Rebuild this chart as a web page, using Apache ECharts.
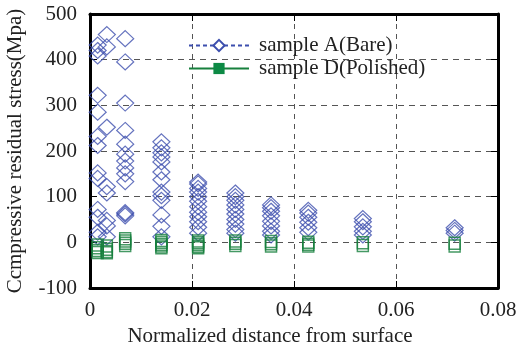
<!DOCTYPE html>
<html>
<head>
<meta charset="utf-8">
<script src="https://cdn.jsdelivr.net/npm/echarts@6/dist/echarts.min.js"></script>
<style>
  html, body { margin: 0; padding: 0; background: #fff; }
  #chart { width: 527px; height: 347px; }
</style>
</head>
<body>
<div id="chart"></div>
<script>
// depth positions (normalized distance) of the measurement columns
var depths = [0.0015, 0.0033, 0.0069, 0.0140, 0.0212, 0.0285, 0.0355, 0.0428, 0.0535, 0.0715];

// sample A (bare), stresses per column
var bareVals = [
  [432, 420, 408, 322, 285, 232, 212, 152, 140, 72, 55, 22, 12],
  [455, 428, 252, 122, 108, 48, 36, 12],
  [446, 395, 305, 245, 215, 193, 178, 163, 150, 133, 65, 62, 58],
  [220, 207, 196, 187, 176, 154, 137, 110, 102, 92, 60, 35, 12],
  [132, 128, 118, 110, 100, 90, 78, 66, 56, 45, 33, 20],
  [108, 100, 92, 82, 72, 62, 50, 40, 28, 20],
  [82, 76, 68, 58, 46, 36, 24, 16],
  [70, 64, 55, 44, 32, 22],
  [52, 45, 34, 24, 16],
  [32, 26, 20]
];

// sample D (polished), stresses per column
var polishedVals = [
  [-6, -12, -18, -22],
  [-8, -15, -20, -23],
  [8, 3, -2, -7],
  [4, 0, -4, -8, -12],
  [3, -1, -5, -9, -12],
  [3, -2, -7],
  [2, -3, -8],
  [0, -4, -8],
  [-1, -7],
  [-2, -8]
];

function toPoints(vals) {
  var pts = [];
  vals.forEach(function (col, i) {
    col.forEach(function (v) { pts.push([depths[i], v]); });
  });
  return pts;
}

var blue = '#3d4fae';
var green = '#17803d';
var font = "'Liberation Serif', 'Times New Roman', serif";

var chart = echarts.init(document.getElementById('chart'));

var option = {
  animation: false,
  textStyle: { fontFamily: font },
  grid: { left: 90, right: 29, top: 14, bottom: 59, containLabel: false, outerBoundsMode: 'none' },
  legend: {
    orient: 'vertical',
    left: 183,
    top: 30,
    itemWidth: 60,
    itemHeight: 14,
    itemGap: 2,
    textStyle: { fontFamily: font, fontSize: 21, color: '#222', padding: [0, 0, 0, 5] },
    data: ['sample A(Bare)', 'sample D(Polished)']
  },
  xAxis: [{
    type: 'value',
    min: 0, max: 0.08, interval: 0.02,
    name: 'Normalized distance from surface',
    nameLocation: 'middle',
    nameGap: 34,
    nameTextStyle: { fontFamily: font, fontSize: 21, color: '#222', padding: [0, 48, 0, 0] },
    axisLine: { onZero: false, lineStyle: { color: '#000', width: 3 } },
    axisTick: { inside: true, length: 7, lineStyle: { color: '#000', width: 1 } },
    axisLabel: {
      fontFamily: font, fontSize: 21, color: '#222', margin: 12,
      formatter: function (v) { return v === 0 ? '0' : v.toFixed(2); }
    },
    splitLine: { show: true, lineStyle: { color: '#555', type: [5, 5], width: 1 } }
  }, {
    type: 'value', position: 'top',
    min: 0, max: 0.08, interval: 0.02,
    axisLine: { onZero: false, lineStyle: { color: '#000', width: 3 } },
    axisTick: { inside: true, length: 7, lineStyle: { color: '#000', width: 1 } },
    axisLabel: { show: false },
    splitLine: { show: false }
  }],
  yAxis: [{
    type: 'value',
    min: -100, max: 500, interval: 100,
    name: 'Ccmpressive residual stress(Mpa)',
    nameLocation: 'middle',
    nameGap: 64,
    nameTextStyle: { fontFamily: font, fontSize: 21, color: '#222' },
    axisLine: { show: true, onZero: false, lineStyle: { color: '#000', width: 3 } },
    axisTick: { show: true, inside: true, length: 7, lineStyle: { color: '#000', width: 1 } },
    axisLabel: { fontFamily: font, fontSize: 21, color: '#222', margin: 13 },
    splitLine: { show: true, lineStyle: { color: '#555', type: [6, 5], width: 1 } }
  }, {
    type: 'value', position: 'right',
    min: -100, max: 500, interval: 100,
    axisLine: { show: true, onZero: false, lineStyle: { color: '#000', width: 3 } },
    axisTick: { show: true, inside: true, length: 7, lineStyle: { color: '#000', width: 1 } },
    axisLabel: { show: false },
    splitLine: { show: false }
  }],
  series: [
    {
      name: 'A',
      type: 'scatter',
      symbol: 'diamond',
      symbolSize: [17, 16],
      itemStyle: { color: 'rgba(255,255,255,0)', borderColor: blue, borderWidth: 1.2 },
      data: toPoints(bareVals)
    },
    {
      name: 'D',
      type: 'scatter',
      symbol: 'rect',
      symbolSize: [11, 12],
      itemStyle: { color: 'rgba(255,255,255,0)', borderColor: green, borderWidth: 1.5 },
      data: toPoints(polishedVals)
    },
    // legend-only entries
    {
      name: 'sample A(Bare)',
      type: 'line',
      data: [],
      symbol: 'diamond',
      symbolSize: 9,
      itemStyle: { color: '#fff', borderColor: blue, borderWidth: 1.5 },
      lineStyle: { color: blue, width: 1.5, type: [4, 3] }
    },
    {
      name: 'sample D(Polished)',
      type: 'line',
      data: [],
      symbol: 'rect',
      symbolSize: 14,
      itemStyle: { color: '#0d8a45', borderColor: '#0d8a45' },
      lineStyle: { color: green, width: 2 }
    }
  ]
};

chart.setOption(option);
</script>
</body>
</html>
